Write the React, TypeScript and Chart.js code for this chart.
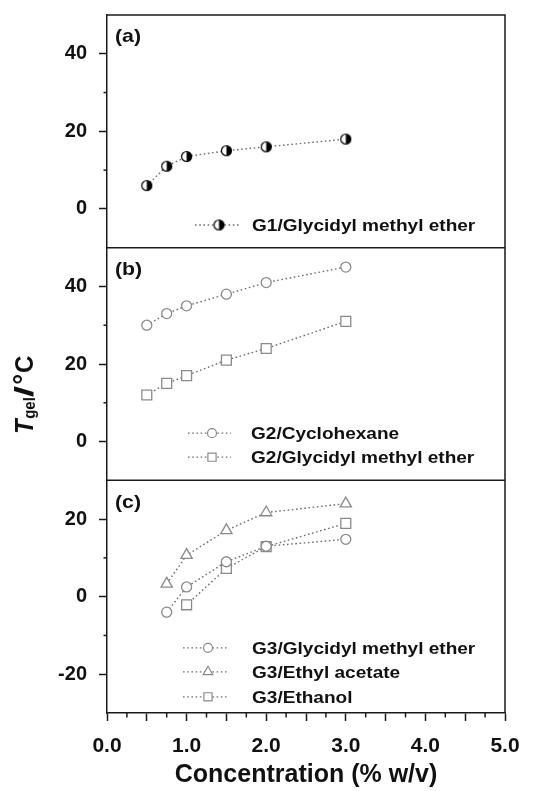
import React, { useEffect, useRef } from 'react';
import { Chart, registerables } from 'chart.js';

Chart.register(...registerables);

// ---------------- data ----------------
const g1Conc = [0.5, 0.75, 1.0, 1.5, 2.0, 3.0];
const g1GlycidylTgel = [6, 11, 13.5, 15, 16, 18];

const g2Conc = [0.5, 0.75, 1.0, 1.5, 2.0, 3.0];
const g2CyclohexaneTgel = [30, 33, 35, 38, 41, 45];
const g2GlycidylTgel = [12, 15, 17, 21, 24, 31];

const g3GlycidylConc = [0.75, 1.0, 1.5, 2.0, 3.0];
const g3GlycidylTgel = [-4, 2.5, 9, 13, 14.8];
const g3EthylAcetateConc = [0.75, 1.0, 1.5, 2.0, 3.0];
const g3EthylAcetateTgel = [3.3, 10.7, 17.1, 21.7, 24];
const g3EthanolConc = [1.0, 1.5, 2.0, 3.0];
const g3EthanolTgel = [-2.1, 7.3, 12.9, 18.9];

const seriesNames = [
  'G1/Glycidyl methyl ether',
  'G2/Cyclohexane',
  'G2/Glycidyl methyl ether',
  'G3/Glycidyl methyl ether',
  'G3/Ethyl acetate',
  'G3/Ethanol',
];
const panelNames = ['(a)', '(b)', '(c)'];
const xAxisTitle = 'Concentration (% w/v)';
const yTitleMain = 'T';
const yTitleSub = 'gel';
const yTitleSlash = '/';
const yTitleDegree = '°';
const yTitleUnit = 'C';
const xRange = [0, 5];
const panelARange = [-10, 50];
const panelBRange = [-10, 50];
const panelCRange = [-30, 30];

// ---------------- styles ----------------
const FONT = '"Liberation Sans", Arial, Helvetica, sans-serif';
const INK = '#111111';
const FRAME = '#1a1a1a';
const LINE_GRAY = '#6e6e6e';
const MARK_GRAY = '#8a8a8a';
const TEXT_STRETCH = 1.12;

const toPoints = (xs: number[], ys: number[]) => xs.map((x, i) => ({ x, y: ys[i] }));

function makeHalfMarker(r: number): HTMLCanvasElement {
  const size = Math.ceil(2 * r + 3);
  const c = document.createElement('canvas');
  c.width = size;
  c.height = size;
  const g = c.getContext('2d')!;
  const cx = size / 2;
  const cy = size / 2;
  g.beginPath();
  g.arc(cx, cy, r, 0, Math.PI * 2);
  g.fillStyle = '#fff';
  g.fill();
  g.beginPath();
  g.moveTo(cx, cy - r);
  g.arc(cx, cy, r, -Math.PI / 2, Math.PI / 2);
  g.closePath();
  g.fillStyle = '#000';
  g.fill();
  g.beginPath();
  g.arc(cx, cy, r, 0, Math.PI * 2);
  g.lineWidth = 1.2;
  g.strokeStyle = '#000';
  g.stroke();
  return c;
}

function drawMarker(ctx: CanvasRenderingContext2D, style: any, x: number, y: number, r: number, stroke: string) {
  if (style && typeof style === 'object') {
    ctx.drawImage(style, x - style.width / 2, y - style.height / 2);
    return;
  }
  ctx.save();
  ctx.beginPath();
  if (style === 'circle') {
    ctx.arc(x, y, r, 0, Math.PI * 2);
  } else if (style === 'rect') {
    const s = r * Math.SQRT1_2;
    ctx.rect(x - s, y - s, 2 * s, 2 * s);
  } else if (style === 'triangle') {
    ctx.moveTo(x, y - r);
    ctx.lineTo(x + r * Math.sin((2 * Math.PI) / 3), y - r * Math.cos((2 * Math.PI) / 3));
    ctx.lineTo(x + r * Math.sin((4 * Math.PI) / 3), y - r * Math.cos((4 * Math.PI) / 3));
    ctx.closePath();
  }
  ctx.fillStyle = '#fff';
  ctx.fill();
  ctx.lineWidth = 1.2;
  ctx.strokeStyle = stroke;
  ctx.stroke();
  ctx.restore();
}

function stretchedText(ctx: CanvasRenderingContext2D, text: string, x: number, y: number, font: string) {
  ctx.save();
  ctx.font = font;
  ctx.fillStyle = INK;
  ctx.textAlign = 'left';
  ctx.textBaseline = 'middle';
  ctx.translate(x, y);
  ctx.scale(TEXT_STRETCH, 1);
  ctx.fillText(text, 0, 0);
  ctx.restore();
}

// legend placement inside each panel (offsets from chart-area left / panel top)
const legendLayout = [
  { axis: 'ya', label: 0, lineFrom: 88, lineTo: 134, marker: 112, text: 145, rows: [{ ds: 0, dy: 210, r: 5 }] },
  {
    axis: 'yb', label: 1, lineFrom: 81, lineTo: 124, marker: 105, text: 144,
    rows: [{ ds: 1, dy: 185.5, r: 4.5 }, { ds: 2, dy: 209.5, r: 5.8 }],
  },
  {
    axis: 'yc', label: 2, lineFrom: 76, lineTo: 122, marker: 101, text: 145,
    rows: [{ ds: 3, dy: 167.5, r: 4.5 }, { ds: 4, dy: 191.5, r: 5.6 }, { ds: 5, dy: 216.5, r: 5.8 }],
  },
];

const panelPlugin = {
  id: 'panelDecor',
  afterDatasetsDraw(chart: any) {
    const ctx: CanvasRenderingContext2D = chart.ctx;
    const area = chart.chartArea;
    for (const panel of legendLayout) {
      const scale = chart.scales[panel.axis];
      for (const row of panel.rows) {
        const ds = chart.data.datasets[row.ds];
        const y = scale.top + row.dy;
        ctx.save();
        ctx.strokeStyle = ds.borderColor;
        ctx.lineWidth = ds.borderWidth;
        ctx.setLineDash(ds.borderDash);
        ctx.beginPath();
        ctx.moveTo(area.left + panel.lineFrom, y);
        ctx.lineTo(area.left + panel.lineTo, y);
        ctx.stroke();
        ctx.restore();
        drawMarker(ctx, ds.pointStyle, area.left + panel.marker, y, row.r, ds.pointBorderColor);
        stretchedText(ctx, ds.label, area.left + panel.text, y + 1, `bold 17px ${FONT}`);
      }
      stretchedText(ctx, panelNames[panel.label], area.left + 8, scale.top + 22, `bold 19px ${FONT}`);
    }
  },
  afterDraw(chart: any) {
    const ctx: CanvasRenderingContext2D = chart.ctx;
    const { left, right, top, bottom } = chart.chartArea;
    ctx.save();
    ctx.strokeStyle = FRAME;
    ctx.lineWidth = 1.5;
    ctx.beginPath();
    ctx.moveTo(left, top);
    ctx.lineTo(right, top);
    ctx.lineTo(right, bottom);
    ctx.stroke();
    for (const id of ['yb', 'yc']) {
      const s = chart.scales[id];
      ctx.beginPath();
      ctx.moveTo(left, s.top);
      ctx.lineTo(right, s.top);
      ctx.stroke();
    }
    for (const id of ['ya', 'yb', 'yc']) {
      const s = chart.scales[id];
      for (const t of s.ticks) {
        if (t.value % 20 === 0 || t.value === s.min || t.value === s.max) continue;
        const py = s.getPixelForValue(t.value);
        ctx.beginPath();
        ctx.moveTo(left - 3.5, py);
        ctx.lineTo(left, py);
        ctx.stroke();
      }
    }
    const xs = chart.scales.x;
    for (const t of xs.ticks) {
      if (Math.abs(t.value * 2 - Math.round(t.value * 2)) < 1e-6) continue;
      const px = xs.getPixelForValue(t.value);
      ctx.beginPath();
      ctx.moveTo(px, bottom);
      ctx.lineTo(px, bottom + 4.5);
      ctx.stroke();
    }
    ctx.restore();

    // y-axis title with subscript
    ctx.save();
    ctx.fillStyle = INK;
    ctx.translate(33, 434);
    ctx.scale(1.05, 1);
    ctx.rotate(-Math.PI / 2);
    ctx.textAlign = 'left';
    ctx.textBaseline = 'alphabetic';
    let x = 0;
    ctx.font = `italic bold 24px ${FONT}`;
    ctx.fillText(yTitleMain, x, 0);
    x += ctx.measureText(yTitleMain).width + 0.5;
    ctx.font = `bold 15px ${FONT}`;
    ctx.fillText(yTitleSub, x, 2);
    x += ctx.measureText(yTitleSub).width;
    ctx.font = `bold 24px ${FONT}`;
    ctx.save();
    ctx.translate(x, 0);
    ctx.scale(1.7, 1);
    ctx.fillText(yTitleSlash, 0, 0);
    ctx.restore();
    x += ctx.measureText(yTitleSlash).width * 1.7 + 1;
    ctx.font = `bold 27px ${FONT}`;
    ctx.fillText(yTitleDegree, x, 0);
    x += ctx.measureText(yTitleDegree).width + 1;
    ctx.font = `bold 24px ${FONT}`;
    ctx.fillText(yTitleUnit, x, 0);
    ctx.restore();
  },
};

function yScale(range: number[], weight: number) {
  return {
    type: 'linear',
    position: 'left',
    stack: 'panels',
    stackWeight: 1,
    weight,
    min: range[0],
    max: range[1],
    afterFit: (s: any) => {
      s.width = 107;
      s.paddingTop = 0;
      s.paddingBottom = 0;
    },
    ticks: {
      stepSize: 10,
      autoSkip: false,
      padding: 12,
      color: INK,
      font: { family: FONT, size: 20, weight: 'bold' },
      callback: (v: any) => (v % 20 === 0 ? String(v) : ''),
    },
    grid: {
      drawOnChartArea: false,
      drawTicks: true,
      tickLength: 8,
      tickWidth: 1.5,
      tickColor: (c: any) => (c.tick && c.tick.value % 20 === 0 ? FRAME : 'rgba(0,0,0,0)'),
    },
    border: { display: true, color: FRAME, width: 1.5 },
  };
}

const lineStyle = {
  borderColor: LINE_GRAY,
  borderWidth: 1.4,
  borderDash: [1.6, 2.6],
  tension: 0,
  fill: false,
  pointBackgroundColor: '#fff',
  pointBorderColor: MARK_GRAY,
  pointBorderWidth: 1.3,
  pointHoverRadius: 0,
};

export default function App() {
  const ref = useRef<HTMLCanvasElement>(null);
  useEffect(() => {
    const half = makeHalfMarker(5);
    const chart = new Chart(ref.current as HTMLCanvasElement, {
      type: 'line',
      data: {
        datasets: [
          { ...lineStyle, label: seriesNames[0], yAxisID: 'ya', data: toPoints(g1Conc, g1GlycidylTgel), pointStyle: half as any, pointRadius: 5, pointBorderColor: '#000' },
          { ...lineStyle, label: seriesNames[1], yAxisID: 'yb', data: toPoints(g2Conc, g2CyclohexaneTgel), pointStyle: 'circle', pointRadius: 5 },
          { ...lineStyle, label: seriesNames[2], yAxisID: 'yb', data: toPoints(g2Conc, g2GlycidylTgel), pointStyle: 'rect', pointRadius: 7 },
          { ...lineStyle, label: seriesNames[3], yAxisID: 'yc', data: toPoints(g3GlycidylConc, g3GlycidylTgel), pointStyle: 'circle', pointRadius: 5 },
          { ...lineStyle, label: seriesNames[4], yAxisID: 'yc', data: toPoints(g3EthylAcetateConc, g3EthylAcetateTgel), pointStyle: 'triangle', pointRadius: 6.5 },
          { ...lineStyle, label: seriesNames[5], yAxisID: 'yc', data: toPoints(g3EthanolConc, g3EthanolTgel), pointStyle: 'rect', pointRadius: 7 },
        ] as any,
      },
      options: {
        animation: false,
        responsive: true,
        maintainAspectRatio: false,
        layout: { padding: { left: 0, right: 41, top: 15, bottom: 0 } },
        plugins: { legend: { display: false }, tooltip: { enabled: false } },
        events: [],
        scales: {
          x: {
            type: 'linear',
            position: 'bottom',
            min: xRange[0],
            max: xRange[1],
            afterFit: (s: any) => {
              s.height = 78;
              s.paddingLeft = 0;
              s.paddingRight = 0;
            },
            ticks: {
              stepSize: 0.25,
              autoSkip: false,
              maxRotation: 0,
              padding: 13,
              color: INK,
              font: { family: FONT, size: 21, weight: 'bold' },
              callback: (v: any) => (Math.abs(v - Math.round(v)) < 1e-9 ? Number(v).toFixed(1) : ''),
            },
            grid: {
              drawOnChartArea: false,
              drawTicks: true,
              tickLength: 8,
              tickWidth: 1.5,
              tickColor: (c: any) =>
                c.tick && Math.abs(c.tick.value * 2 - Math.round(c.tick.value * 2)) < 1e-6 ? FRAME : 'rgba(0,0,0,0)',
            },
            border: { display: true, color: FRAME, width: 1.5 },
            title: {
              display: true,
              text: xAxisTitle,
              color: INK,
              font: { family: FONT, size: 25, weight: 'bold' },
              padding: { top: 0, bottom: 1 },
            },
          },
          yc: yScale(panelCRange, 1),
          yb: yScale(panelBRange, 2),
          ya: yScale(panelARange, 3),
        } as any,
      },
      plugins: [panelPlugin],
    });
    return () => chart.destroy();
  }, []);
  return (
    <div style={{ position: 'absolute', left: 0, top: 0, width: 546, height: 791, background: '#fff' }}>
      <canvas ref={ref} />
    </div>
  );
}
